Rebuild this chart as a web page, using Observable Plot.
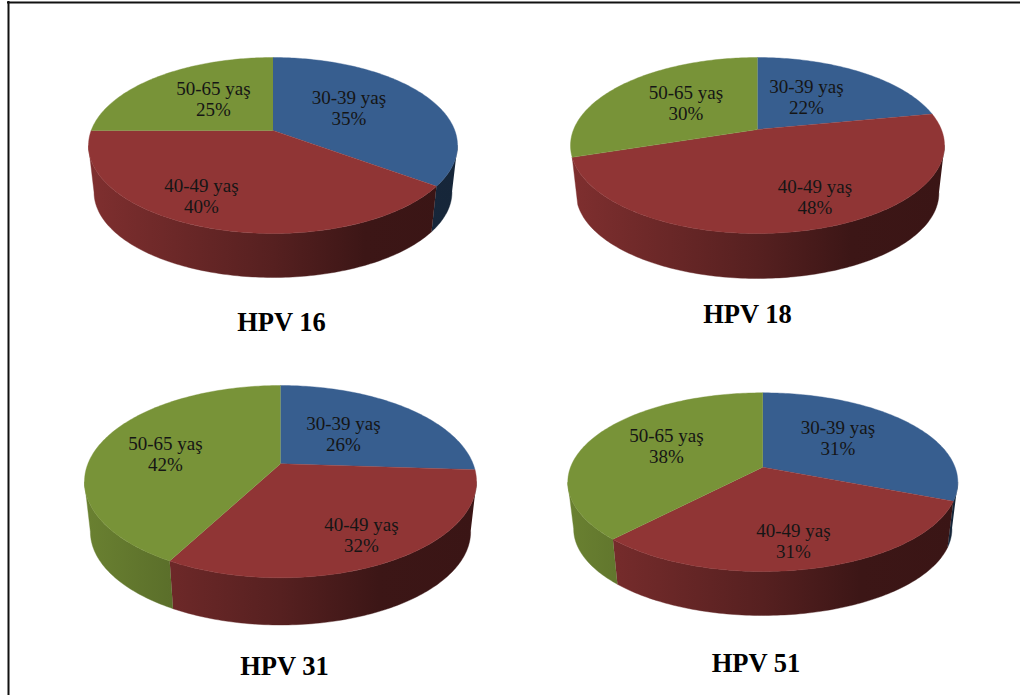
<!DOCTYPE html>
<html lang="tr">
<head>
<meta charset="utf-8">
<title>HPV tiplerinin yaş gruplarına dağılımı</title>
<script src="https://cdn.jsdelivr.net/npm/d3@7"></script>
<script src="https://cdn.jsdelivr.net/npm/@observablehq/plot@0.6"></script>
<style>
  html, body { margin: 0; padding: 0; background: #fff; }
  svg { display: block; }
</style>
</head>
<body>
<div id="chart"></div>
<script>
// Age groups and the share of each group per HPV type
const ageGroups = ["30-39 yaş", "40-49 yaş", "50-65 yaş"];
const hpvTypes = ["HPV 16", "HPV 18", "HPV 31", "HPV 51"];
const hpv16 = [35, 40, 25];
const hpv18 = [22, 48, 30];
const hpv31 = [26, 32, 42];
const hpv51 = [31, 31, 38];
const shares = [hpv16, hpv18, hpv31, hpv51];

// Slice colours, one per age group
const sliceColors = ["#375e8f", "#903535", "#789338"];

// Placement of each tilted pie on the page: hub, half width, reach behind and
// in front of the hub, lowest point of the drum, and where its texts sit
const pieLayout = [
  {cx: 272.5, hub: 130, rx: 184.5, back: 73, front: 103, base: 277,
   title: [281, 322],
   labels: [[348.5, 106.8], [201, 194.8], [213, 98.3]]},
  {cx: 757, hub: 129, rx: 187, back: 72, front: 104, base: 278,
   title: [747, 314],
   labels: [[806, 96.3], [814.5, 196.3], [685.5, 101.8]]},
  {cx: 280, hub: 463.3, rx: 196, back: 78.3, front: 114, base: 624.5,
   title: [284, 666],
   labels: [[343, 432.8], [361, 533.8], [165, 453.3]]},
  {cx: 762.3, hub: 466.7, rx: 195, back: 74.4, front: 104.3, base: 615,
   title: [755.5, 663],
   labels: [[837.5, 437.3], [793, 540.3], [666, 444.8]]}
];

// Floor of the drum is a little smaller because it lies further from the eye
const floorScale = 0.97;
// A wall narrower than this is absorbed by the neighbouring slice
const minWallSpan = 10 * Math.PI / 180;
const serif = "Liberation Serif";

// Perspective view of a point on the unit disc; theta runs clockwise from 12 o'clock
function projector({cx, hub, rx, back, front, base}) {
  const k = (front - back) / (front + back);
  const a = rx * Math.sqrt(1 - k * k);
  const b = back * (1 + k);
  const at = (theta) => {
    const u = Math.sin(theta), v = Math.cos(theta), w = 1 + k * v;
    return [a * u / w, -b * v / w];
  };
  const drop = base - (hub + floorScale * front);
  return {
    k,
    top: (theta) => { const [x, y] = at(theta); return {x: cx + x, y: hub + y}; },
    floor: (theta) => { const [x, y] = at(theta); return {x: cx + floorScale * x, y: hub + floorScale * y + drop}; }
  };
}

const stepAngle = Math.PI / 180;
function angles(t0, t1) {
  const n = Math.max(1, Math.ceil((t1 - t0) / stepAngle));
  return d3.range(n + 1).map((i) => t0 + (t1 - t0) * i / n);
}

// Wall shading falls off from left to right across the drum
const shadeStops = [[0, 0.88], [0.5, 0.6], [0.75, 0.42], [1, 0.4]];
function wallGradients() {
  const defs = d3.create("svg:defs");
  pieLayout.forEach((pie, p) => {
    sliceColors.forEach((color, c) => {
      const g = defs.append("linearGradient")
        .attr("id", `wall-${p}-${c}`)
        .attr("gradientUnits", "userSpaceOnUse")
        .attr("x1", pie.cx - pie.rx).attr("x2", pie.cx + pie.rx)
        .attr("y1", 0).attr("y2", 0);
      for (const [offset, f] of shadeStops) {
        const rgb = d3.rgb(color);
        g.append("stop")
          .attr("offset", offset)
          .attr("stop-color", d3.rgb(rgb.r * f, rgb.g * f, rgb.b * f).formatHex());
      }
    });
  });
  return defs.node();
}

const wallMarks = [];
const topMarks = [];
const labelRows = [];
const titleRows = [];

shares.forEach((values, p) => {
  const pie = pieLayout[p];
  const view = projector(pie);
  const total = d3.sum(values);
  const limitStart = Math.acos(-view.k);
  const limitEnd = 2 * Math.PI - limitStart;
  let acc = 0;

  values.forEach((value, c) => {
    const t0 = acc / total * 2 * Math.PI;
    acc += value;
    const t1 = acc / total * 2 * Math.PI;

    // Only the part of the rim that faces the viewer gets a wall
    let w0 = Math.max(t0, limitStart), w1 = Math.min(t1, limitEnd);
    if (t0 > limitStart && limitEnd - t1 > 0 && limitEnd - t1 < minWallSpan) w1 = limitEnd;
    if (w1 - w0 >= minWallSpan) {
      const arc = angles(w0, w1);
      const wall = [...arc.map(view.top), ...arc.slice().reverse().map(view.floor)];
      const paint = `url(#wall-${p}-${c})`;
      wallMarks.push(Plot.line(wall, {x: "x", y: "y", fill: paint, stroke: paint, strokeWidth: 0.4}));
    }

    const face = [{x: pie.cx, y: pie.hub}, ...angles(t0, t1).map(view.top)];
    topMarks.push(Plot.line(face, {x: "x", y: "y", fill: sliceColors[c], stroke: sliceColors[c], strokeWidth: 0.4}));

    const [lx, ly] = pie.labels[c];
    labelRows.push({x: lx, y: ly, text: `${ageGroups[c]}\n${value}%`});
  });

  titleRows.push({x: pie.title[0], y: pie.title[1], text: hpvTypes[p]});
});

const chart = Plot.plot({
  width: 1020,
  height: 695,
  margin: 0,
  x: {domain: [0, 1020], range: [0, 1020], axis: null},
  y: {domain: [0, 695], range: [0, 695], axis: null},
  style: {background: "#fff"},
  marks: [
    wallGradients,
    ...wallMarks,
    ...topMarks,
    // Page frame: only the top and left edges are visible
    Plot.ruleY([1.9], {x1: 7, x2: 1020, stroke: "#111", strokeWidth: 2}),
    Plot.ruleX([8], {y1: 1, y2: 695, stroke: "#111", strokeWidth: 2}),
    Plot.text(labelRows, {
      x: "x", y: "y", text: "text",
      fontFamily: serif, fontSize: 19, lineHeight: 1.105, fill: "#151515"
    }),
    Plot.text(titleRows, {
      x: "x", y: "y", text: "text",
      fontFamily: serif, fontSize: 26.5, fontWeight: "bold", fill: "#000"
    })
  ]
});

document.getElementById("chart").append(chart);
</script>
</body>
</html>
